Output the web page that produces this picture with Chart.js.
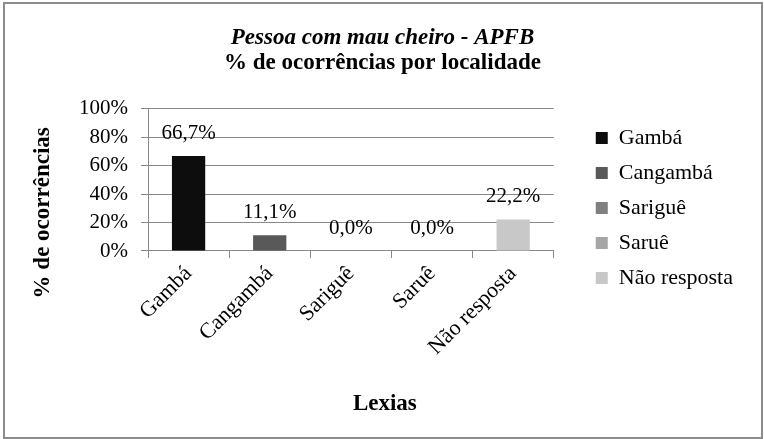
<!DOCTYPE html>
<html>
<head>
<meta charset="utf-8">
<script src="https://cdn.jsdelivr.net/npm/chart.js@4.4.0/dist/chart.umd.min.js"></script>
<style>
  html, body { margin: 0; padding: 0; background: #fff; }
  #wrap { position: relative; width: 764px; height: 439px; }
</style>
</head>
<body>
<div id="wrap"><canvas id="Chart"></canvas></div>
<script>
// donnees
const categories = ['Gambá', 'Cangambá', 'Sariguê', 'Saruê', 'Não resposta'];
const percentages = [66.7, 11.1, 0.0, 0.0, 22.2];
const barColors = ['#0d0d0d', '#595959', '#7f7f7f', '#a6a6a6', '#c8c8c8'];
const yTicks = [0, 20, 40, 60, 80, 100];

const serif = '"Liberation Serif", "Times New Roman", serif';
const gris = '#888888';

// cadre gris autour de tout le graphique
const cadre = {
  id: 'cadre',
  beforeDraw(chart) {
    const c = chart.ctx;
    c.save();
    c.fillStyle = '#fff';
    c.fillRect(0, 0, chart.width, chart.height);
    c.strokeStyle = '#8c8c8c';
    c.lineWidth = 2;
    c.strokeRect(4, 3, 758, 435);
    c.restore();
  }
};

// etiquettes au dessus des barres + titres des axes (decales comme dans Excel)
const etiquettes = {
  id: 'etiquettes',
  afterDatasetsDraw(chart) {
    const c = chart.ctx;
    const a = chart.chartArea;
    c.save();
    c.font = '21px ' + serif;
    c.fillStyle = '#000';
    c.textAlign = 'center';
    c.textBaseline = 'middle';
    chart.data.datasets.forEach((ds, i) => {
      const bar = chart.getDatasetMeta(i).data[i];
      c.fillText(percentages[i].toFixed(1).replace('.', ',') + '%', bar.x, bar.y - 23);
    });
    c.font = 'bold 23px ' + serif;
    c.fillText('Lexias', (a.left + a.right) / 2 + 34, chart.scales.x.bottom - 12);
    c.translate(chart.scales.y.left + 21, (a.top + a.bottom) / 2 + 33);
    c.rotate(-Math.PI / 2);
    c.fillText('% de ocorrências', 0, 0);
    c.restore();
  }
};

const datasets = categories.map((nom, i) => ({
  label: nom,
  data: categories.map((c, j) => (j === i ? percentages[i] : null)),
  backgroundColor: barColors[i],
  grouped: false,
  barPercentage: 0.41,
  categoryPercentage: 1
}));

new Chart(document.getElementById('Chart').getContext('2d'), {
  type: 'bar',
  data: { labels: categories, datasets: datasets },
  options: {
    responsive: true,
    maintainAspectRatio: false,
    animation: false,
    layout: { padding: { left: 22, right: 21, top: 0, bottom: 23 } },
    plugins: {
      title: {
        display: true,
        text: 'Pessoa com mau cheiro - APFB',
        color: '#000',
        font: { family: serif, size: 23, weight: 'bold', style: 'italic', lineHeight: 1.1 },
        padding: { top: 25, bottom: 0 }
      },
      subtitle: {
        display: true,
        text: '% de ocorrências por localidade',
        color: '#000',
        font: { family: serif, size: 23, weight: 'bold', lineHeight: 1.1 },
        padding: { top: 0, bottom: 33 }
      },
      legend: {
        position: 'right',
        align: 'center',
        maxWidth: 220,
        labels: {
          color: '#000',
          font: { family: serif, size: 22 },
          boxWidth: 12,
          boxHeight: 12,
          padding: 13
        }
      },
      tooltip: { enabled: false }
    },
    scales: {
      x: {
        grid: { display: true, drawOnChartArea: false, drawTicks: true, tickLength: 7, color: gris },
        border: { color: gris, width: 1 },
        ticks: { color: '#000', font: { family: serif, size: 22 }, minRotation: 45, maxRotation: 45, padding: 3 },
        afterFit: s => { s.height = 165; }
      },
      y: {
        min: 0,
        max: 100,
        afterBuildTicks: s => { s.ticks = yTicks.map(v => ({ value: v })); },
        grid: { color: gris, tickLength: 7 },
        border: { color: gris, width: 1 },
        ticks: { color: '#000', font: { family: serif, size: 21 }, padding: 13, callback: v => v + '%' },
        afterFit: s => { s.width = 126; }
      },
      // espace vide entre le graphique et la legende
      vide: {
        type: 'linear',
        position: 'right',
        display: true,
        grid: { display: false },
        border: { display: false },
        ticks: { display: false },
        afterFit: s => { s.width = 29; }
      }
    }
  },
  plugins: [cadre, etiquettes]
});
</script>
</body>
</html>
